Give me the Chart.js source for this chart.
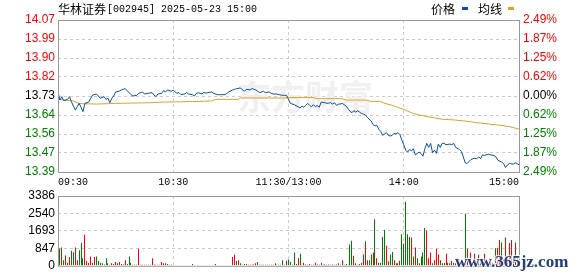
<!DOCTYPE html>
<html><head><meta charset="utf-8">
<script src="https://cdn.jsdelivr.net/npm/chart.js@4.4.0/dist/chart.umd.min.js"></script>
<style>
html,body{margin:0;padding:0;background:#fff;}
#wrap{position:relative;width:578px;height:276px;overflow:hidden;background:#fff;}
#c1{position:absolute;left:0;top:0;}
#c2{position:absolute;left:0;top:176px;}
</style></head><body>
<div id="wrap"><canvas id="c1" width="578" height="196"></canvas><canvas id="c2" width="578" height="100"></canvas></div>
<script>
// ---- data ----
const stockTitle = '华林证券[002945] 2025-05-23 15:00';
const legendNames = ['价格', '均线'];
const timeLabels = ['09:30', '10:30', '11:30/13:00', '14:00', '15:00'];
const timeTickMinutes = [0, 60, 120, 180, 240];
const priceLabels = ['13.39','13.47','13.56','13.64','13.73','13.82','13.90','13.99','14.07'];
const pctLabels = ['2.49%','1.87%','1.25%','0.62%','0.00%','0.62%','1.25%','1.87%','2.49%'];
const volLabels = ['0','847','1693','2540','3386'];
const volTicks = [0, 847, 1693, 2540, 3386];

const priceMinute = [0,1,2,3,5,6,7,9,10,11,12,13,14,16,17,18,20,21,22,24,25,26,27,28,29,30,32,33,34,35,36,38,39,41,42,44,45,47,49,50,51,52,54,55,56,57,59,60,
 61,62,63,64,66,67,68,70,71,72,73,75,76,77,78,80,81,83,84,85,87,88,89,91,92,93,95,96,97,98,100,101,103,104,105,107,108,110,111,112,114,115,117,118,119,120,
 121,123,125,126,127,128,129,130,131,132,133,134,135,136,137,139,140,142,143,144,145,146,147,148,150,151,152,153,154,155,156,157,158,159,160,161,162,163,164,165,166,167,168,169,170,171,172,173,174,175,176,177,178,179,180,
 181,182,183,184,185,186,187,188,189,190,191,192,193,194,195,196,197,198,199,200,201,202,204,205,206,207,209,210,211,212,213,214,215,217,218,219,220,221,222,224,225,227,228,229,231,232,233,234,235,237,238,239,240];
const priceValue = [13.748,13.712,13.727,13.709,13.715,13.727,13.704,13.667,13.682,13.697,13.679,13.660,13.697,13.703,13.720,13.734,13.739,13.730,13.720,13.727,13.715,13.720,13.700,13.720,13.730,13.748,13.752,13.757,13.760,13.763,13.754,13.736,13.730,13.733,13.742,13.748,13.739,13.742,13.745,13.734,13.727,13.739,13.742,13.754,13.748,13.757,13.751,13.757,
 13.748,13.742,13.745,13.736,13.739,13.745,13.739,13.736,13.730,13.742,13.745,13.739,13.748,13.742,13.745,13.748,13.742,13.736,13.736,13.736,13.736,13.742,13.749,13.757,13.760,13.763,13.766,13.757,13.751,13.760,13.757,13.763,13.757,13.751,13.745,13.751,13.745,13.748,13.742,13.739,13.739,13.736,13.733,13.733,13.733,13.715,
 13.697,13.691,13.682,13.676,13.685,13.679,13.688,13.697,13.688,13.682,13.691,13.682,13.688,13.679,13.703,13.700,13.697,13.700,13.694,13.700,13.688,13.694,13.694,13.697,13.685,13.673,13.662,13.655,13.664,13.658,13.664,13.658,13.652,13.649,13.646,13.635,13.626,13.619,13.602,13.596,13.599,13.581,13.572,13.554,13.560,13.566,13.554,13.551,13.554,13.563,13.560,13.566,13.557,13.533,13.512,
 13.488,13.479,13.491,13.485,13.494,13.467,13.473,13.479,13.473,13.461,13.494,13.518,13.500,13.518,13.476,13.488,13.473,13.515,13.500,13.518,13.518,13.512,13.515,13.512,13.518,13.500,13.491,13.482,13.458,13.431,13.428,13.437,13.446,13.452,13.449,13.458,13.449,13.467,13.464,13.470,13.467,13.464,13.458,13.443,13.434,13.428,13.410,13.422,13.428,13.425,13.431,13.428,13.422];

const avgMinute = [0,8,11,20,30,48,55,70,80,82,94,95,118,120,133,135,148,150,160,163,168,170,173,176,178,180,182,185,188,192,196,200,206,212,218,224,230,235,240];
const avgValue = [13.715,13.708,13.696,13.694,13.697,13.700,13.703,13.705,13.708,13.715,13.715,13.721,13.721,13.723,13.723,13.718,13.718,13.712,13.712,13.706,13.706,13.697,13.691,13.682,13.676,13.670,13.662,13.652,13.645,13.638,13.632,13.626,13.623,13.618,13.611,13.605,13.599,13.593,13.582];

const volume = [
 0,840,885,275,500,150,430,730,655,885,
 275,760,1100,365,1510,230,135,455,150,425,
 455,230,150,120,60,365,120,45,120,90,
 185,120,185,90,60,275,90,455,150,45,
 45,45,825,45,45,45,45,45,45,365,
 45,45,45,45,185,120,120,90,45,45,
 30,30,30,30,30,30,30,30,30,30,
 90,30,30,30,30,30,30,30,30,30,
 30,30,90,30,30,30,30,30,30,30,
 30,425,550,230,275,120,45,90,90,45,
 45,45,60,120,185,45,45,45,45,45,
 45,45,45,120,45,45,45,275,45,245,
 305,185,45,640,90,365,580,45,150,60,
 45,90,45,45,150,60,45,150,45,60,
 45,60,45,60,45,60,120,45,275,45,
 90,45,1035,1220,490,120,45,90,150,550,
 1190,275,275,550,640,2255,365,150,150,1400,
 1740,975,215,550,670,275,120,120,245,1525,
 1070,3110,1525,1400,1370,455,885,365,120,455,
 640,1830,1710,365,640,120,275,825,550,275,
 120,150,580,150,120,245,150,120,90,200,
 150,120,2530,825,200,640,150,580,120,530,
 150,120,580,200,120,250,150,90,855,855,
 1250,1130,300,1370,400,1100,1250,300,1130,365,
 1770];
// 1 = price up (red), -1 = price down (green)
const volumeDir = [
 -1,-1,1,-1,1,1,1,-1,-1,1,
 1,-1,-1,-1,1,1,1,1,-1,1,
 -1,-1,-1,-1,-1,-1,-1,1,1,1,
 1,1,1,-1,1,1,-1,-1,-1,-1,
 1,1,1,1,1,1,-1,-1,1,1,
 1,-1,-1,1,1,1,-1,-1,-1,1,
 1,-1,1,1,-1,1,1,-1,1,1,
 -1,1,1,-1,1,1,1,-1,1,1,
 1,1,1,1,-1,1,1,1,-1,1,
 1,1,1,-1,1,-1,-1,-1,-1,1,
 1,1,1,1,-1,1,1,-1,1,1,
 1,-1,1,-1,1,1,-1,-1,1,1,
 -1,-1,1,-1,1,1,-1,1,1,1,
 -1,1,1,-1,1,1,-1,-1,1,1,
 -1,1,1,-1,1,1,-1,-1,1,1,
 -1,-1,-1,-1,1,1,-1,1,-1,1,
 1,1,-1,-1,1,-1,1,-1,-1,-1,
 -1,1,1,-1,-1,1,-1,1,1,-1,
 -1,-1,-1,-1,1,-1,1,-1,1,-1,
 -1,-1,1,1,1,-1,1,1,1,-1,
 -1,1,1,-1,1,1,-1,1,-1,1,
 1,-1,-1,1,1,1,-1,1,1,1,
 -1,1,1,1,-1,1,1,-1,-1,1,
 1,-1,1,1,1,1,1,-1,1,-1,
 -1];

// ---- styles ----
const RED = '#ff0000', GREEN = '#008000', BLUE = '#0a4fa3', GOLD = '#dfa128';
const GRID = '#cccccc', FRAME = '#999999';

function evenTicks(min, max, n) {
  return (s) => { const t = []; for (let k = 0; k < n; k++) t.push({ value: min + (max - min) * k / (n - 1) }); s.ticks = t; };
}
function sideColor(ctx) { const i = ctx.index; return i < 4 ? GREEN : (i === 4 ? '#000' : RED); }

const frame = {
  id: 'frame',
  afterDraw(chart) {
    const { ctx, chartArea: a } = chart;
    ctx.save(); ctx.strokeStyle = FRAME; ctx.lineWidth = 1;
    ctx.strokeRect(a.left + 0.5, a.top + 0.5, a.right - a.left, a.bottom - a.top);
    ctx.restore();
  }
};
const header = {
  id: 'header',
  afterDraw(chart) {
    const ctx = chart.ctx;
    ctx.save(); ctx.textBaseline = 'middle'; ctx.fillStyle = '#000';
    const cjk = stockTitle.slice(0, 4), rest = stockTitle.slice(4);
    ctx.font = '12px "Noto Sans CJK SC"';
    ctx.fillText(cjk, 58, 9);
    const w = ctx.measureText(cjk).width;
    ctx.font = '10px "Liberation Mono"';
    ctx.fillText(rest, 58 + w + 1, 9);
    ctx.font = '12px "Noto Sans CJK SC"';
    ctx.fillText(legendNames[0], 431, 9);
    ctx.fillStyle = BLUE; ctx.fillRect(462, 7, 6, 3);
    ctx.fillStyle = '#000'; ctx.fillText(legendNames[1], 478, 9);
    ctx.fillStyle = GOLD; ctx.fillRect(508, 7, 6, 3);
    ctx.restore();
  }
};
const emWatermark = {
  id: 'emWatermark',
  beforeDatasetsDraw(chart) {
    const ctx = chart.ctx;
    ctx.save(); ctx.fillStyle = '#f0f0f0'; ctx.textBaseline = 'middle';
    ctx.font = 'bold 34px "Noto Sans CJK SC"';
    ctx.fillText('东方财富', 237, 97);
    ctx.restore();
  }
};

new Chart(document.getElementById('c1'), {
  type: 'line',
  data: {
    datasets: [
      { data: priceMinute.map((m, k) => ({ x: m, y: priceValue[k] })), borderColor: BLUE, borderWidth: 1, pointRadius: 0, yAxisID: 'y' },
      { data: avgMinute.map((m, k) => ({ x: m, y: avgValue[k] })), borderColor: GOLD, borderWidth: 1, pointRadius: 0, yAxisID: 'y' }
    ]
  },
  options: {
    responsive: false, animation: false, devicePixelRatio: 1,
    layout: { padding: { top: 20, left: 0, right: 0, bottom: 0 } },
    plugins: { legend: { display: false }, tooltip: { enabled: false } },
    elements: { line: { tension: 0 } },
    scales: {
      x: {
        type: 'linear', min: 0, max: 240,
        afterBuildTicks: s => { s.ticks = timeTickMinutes.map(v => ({ value: v })); },
        afterFit: s => { s.height = 24; },
        ticks: { callback: (v, i) => timeLabels[i], font: { family: 'Liberation Mono', size: 10 }, color: '#000', padding: 4, maxRotation: 0, autoSkip: false, align: 'inner' },
        grid: { color: c => (c.index === 0 || c.index === 4) ? 'rgba(0,0,0,0)' : GRID, drawTicks: false },
        border: { display: false, dash: [3, 3] }
      },
      y: {
        position: 'left', min: 13.39, max: 14.07,
        afterBuildTicks: evenTicks(13.39, 14.07, 9),
        afterFit: s => { s.width = 58; },
        ticks: { callback: (v, i) => priceLabels[i], color: sideColor, font: { family: 'Liberation Sans', size: 12 }, padding: 3 },
        grid: { color: c => (c.index === 0 || c.index === 8) ? 'rgba(0,0,0,0)' : GRID, drawTicks: false },
        border: { display: false, dash: [3, 3] }
      },
      y2: {
        position: 'right', min: -2.49, max: 2.49,
        afterBuildTicks: evenTicks(-2.49, 2.49, 9),
        afterFit: s => { s.width = 59; },
        ticks: { callback: (v, i) => pctLabels[i], color: sideColor, font: { family: 'Liberation Sans', size: 12 }, padding: 4 },
        grid: { drawOnChartArea: false, drawTicks: false },
        border: { display: false }
      }
    }
  },
  plugins: [emWatermark, frame, header]
});

const siteMark = {
  id: 'siteMark',
  afterDraw(chart) {
    const ctx = chart.ctx;
    ctx.save();
    ctx.font = 'bold 17px "Liberation Serif"';
    ctx.textBaseline = 'alphabetic';
    ctx.lineWidth = 2; ctx.strokeStyle = 'rgba(255,255,255,0.8)';
    ctx.strokeText('www.365jz.com', 455, 91);
    ctx.fillStyle = '#213d7a';
    ctx.fillText('www.365jz.com', 455, 91);
    ctx.restore();
  }
};
// keep 1px volume bars on whole pixels so they render crisp
const crispBars = {
  id: 'crispBars',
  beforeDatasetsDraw(chart) {
    chart.getDatasetMeta(0).data.forEach(el => { el.x = Math.floor(el.x) + 0.5; });
  }
};

new Chart(document.getElementById('c2'), {
  type: 'bar',
  data: {
    datasets: [{
      data: volume.map((v, i) => ({ x: i, y: v })),
      backgroundColor: volumeDir.map(d => d > 0 ? RED : GREEN),
      barThickness: 1, borderWidth: 0, inflateAmount: 0
    }]
  },
  options: {
    responsive: false, animation: false, devicePixelRatio: 1,
    layout: { padding: { top: 20, left: 0, right: 59, bottom: 6 } },
    plugins: { legend: { display: false }, tooltip: { enabled: false } },
    scales: {
      x: {
        type: 'linear', min: 0, max: 240, offset: false,
        afterBuildTicks: s => { s.ticks = timeTickMinutes.map(v => ({ value: v })); },
        afterFit: s => { s.height = 0; },
        ticks: { display: false },
        grid: { color: c => (c.index === 0 || c.index === 4) ? 'rgba(0,0,0,0)' : GRID, drawTicks: false, offset: false },
        border: { display: false, dash: [3, 3] }
      },
      y: {
        position: 'left', min: 0, max: 3386,
        afterBuildTicks: s => { s.ticks = volTicks.map(v => ({ value: v })); },
        afterFit: s => { s.width = 58; },
        ticks: { callback: (v, i) => volLabels[i], color: '#000', font: { family: 'Liberation Sans', size: 12 }, padding: 3 },
        grid: { color: c => (c.index === 0 || c.index === 4) ? 'rgba(0,0,0,0)' : GRID, drawTicks: false },
        border: { display: false, dash: [3, 3] }
      }
    }
  },
  plugins: [crispBars, frame, siteMark]
});
</script>
</body></html>
